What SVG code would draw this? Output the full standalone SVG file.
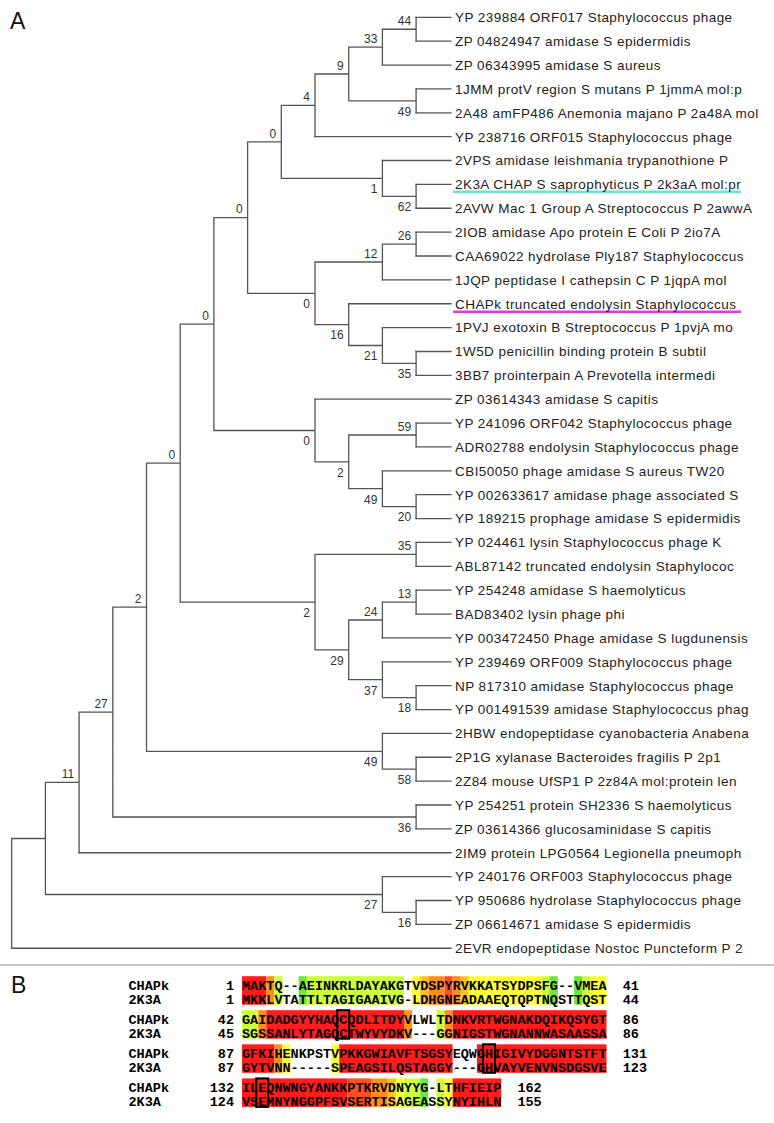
<svg xmlns="http://www.w3.org/2000/svg" width="774" height="1123" viewBox="0 0 774 1123">
<style>
.bg{fill:#ffffff}
.pl{font-family:"Liberation Sans",Arial,sans-serif;font-size:23px;fill:#111}
.lf{font-family:"Liberation Sans",Arial,sans-serif;font-size:13.5px;letter-spacing:0.45px;fill:#222}
.bs{font-family:"Liberation Sans",Arial,sans-serif;font-size:12px;fill:#333;text-anchor:end}
.br{stroke:#555;stroke-width:1.3;fill:none;stroke-linecap:square}
.sq{font-family:"Liberation Mono","Courier New",monospace;font-weight:bold;font-size:13.5px;fill:#000}
.num{text-anchor:end}
.R{fill:#ff1c1c}.OR{fill:#ff4f1c}.O{fill:#ff8f1c}.LO{fill:#ffc41c}.Y{fill:#ffff38}.YG{fill:#ccff3c}.G{fill:#6ee63a}
.bx{fill:none;stroke:#000;stroke-width:2}
</style>
<rect class="bg" x="0" y="0" width="774" height="1123"/>
<text class="pl" x="10" y="28.5">A</text>
<text class="pl" x="11" y="993.3">B</text>
<line x1="0" y1="965" x2="774" y2="965" stroke="#c8c8c8" stroke-width="2"/>

<g id="connectors">
<path class="br" d="M11.7 838.5V948.2M11.7 838.5H45.4M45.4 782.4V894.5M45.4 782.4H79.1M79.1 712.1V852.75M79.1 712.1H112.8M112.8 607.2V817M112.8 607.2H146.5M146.5 463.1V751.3M146.5 463.1H180.2M180.2 324.1V602.1M180.2 324.1H213.9M213.9 217.6V430.5M213.9 217.6H247.6M247.6 141.9V293.3M247.6 141.9H281.3M281.3 105.3V178.4M281.3 105.3H315M315 74V136.65M315 74H348.7M348.7 47.1V100.85M348.7 47.1H382.4M382.4 29.25V65.04M382.4 29.25H416.1M416.1 17.3V41.17M348.7 100.85H416.1M416.1 88.91V112.78M281.3 178.4H382.4M382.4 160.52V196.3M382.4 196.3H416.1M416.1 184.39V208.26M247.6 293.3H315M315 262V324.6M315 262H382.4M382.4 244.1V279.87M382.4 244.1H416.1M416.1 232.13V256M315 324.6H348.7M348.7 303.74V345.5M348.7 345.5H382.4M382.4 327.61V363.4M382.4 363.4H416.1M416.1 351.48V375.35M213.9 430.5H315M315 399.22V461.9M315 461.9H348.7M348.7 435V488.7M348.7 435H416.1M416.1 423.09V446.96M348.7 488.7H382.4M382.4 470.83V506.6M382.4 506.6H416.1M416.1 494.7V518.57M180.2 602.1H315M315 554.4V649.9M315 554.4H416.1M416.1 542.44V566.31M315 649.9H348.7M348.7 620V679.7M348.7 620H382.4M382.4 602.1V637.92M382.4 602.1H416.1M416.1 590.18V614.05M348.7 679.7H382.4M382.4 661.79V697.6M382.4 697.6H416.1M416.1 685.66V709.53M146.5 751.3H382.4M382.4 733.4V769.2M382.4 769.2H416.1M416.1 757.27V781.14M112.8 817H416.1M416.1 805.01V828.88M45.4 894.5H382.4M382.4 876.62V912.4M382.4 912.4H416.1M416.1 900.49V924.36"/>
<path class="br" d="M416.1 17.3H451M416.1 41.17H451M382.4 65.04H451M416.1 88.91H451M416.1 112.78H451M315 136.65H451M382.4 160.52H451M416.1 184.39H451M416.1 208.26H451M416.1 232.13H451M416.1 256H451M382.4 279.87H451M348.7 303.74H451M382.4 327.61H451M416.1 351.48H451M416.1 375.35H451M315 399.22H451M416.1 423.09H451M416.1 446.96H451M382.4 470.83H451M416.1 494.7H451M416.1 518.57H451M416.1 542.44H451M416.1 566.31H451M416.1 590.18H451M416.1 614.05H451M382.4 637.92H451M382.4 661.79H451M416.1 685.66H451M416.1 709.53H451M382.4 733.4H451M416.1 757.27H451M416.1 781.14H451M416.1 805.01H451M416.1 828.88H451M79.1 852.75H451M382.4 876.62H451M416.1 900.49H451M416.1 924.36H451M11.7 948.23H451"/>
<line x1="453" y1="191.7" x2="741" y2="191.7" stroke="#6fe0d2" stroke-width="2.6"/>
<line x1="453" y1="311.7" x2="741" y2="311.7" stroke="#e23cd8" stroke-width="2.6"/>
</g>

<g id="bootstrap">
<text class="bs" x="411.1" y="25.05">44</text>
<text class="bs" x="377.4" y="42.9">33</text>
<text class="bs" x="343.7" y="69.8">9</text>
<text class="bs" x="310" y="101.1">4</text>
<text class="bs" x="411.1" y="115.65">49</text>
<text class="bs" x="276.3" y="137.7">0</text>
<text class="bs" x="377.4" y="193.2">1</text>
<text class="bs" x="411.1" y="211.1">62</text>
<text class="bs" x="242.6" y="213.4">0</text>
<text class="bs" x="411.1" y="239.9">26</text>
<text class="bs" x="377.4" y="257.8">12</text>
<text class="bs" x="310" y="308.1">0</text>
<text class="bs" x="343.7" y="339.4">16</text>
<text class="bs" x="377.4" y="360.3">21</text>
<text class="bs" x="411.1" y="378.2">35</text>
<text class="bs" x="208.9" y="319.9">0</text>
<text class="bs" x="411.1" y="430.8">59</text>
<text class="bs" x="310" y="445.3">0</text>
<text class="bs" x="343.7" y="476.7">2</text>
<text class="bs" x="377.4" y="503.5">49</text>
<text class="bs" x="411.1" y="521.4">20</text>
<text class="bs" x="175.2" y="458.9">0</text>
<text class="bs" x="411.1" y="550.2">35</text>
<text class="bs" x="411.1" y="597.9">13</text>
<text class="bs" x="310" y="616.9">2</text>
<text class="bs" x="377.4" y="615.8">24</text>
<text class="bs" x="343.7" y="664.7">29</text>
<text class="bs" x="377.4" y="694.5">37</text>
<text class="bs" x="411.1" y="712.4">18</text>
<text class="bs" x="141.5" y="603">2</text>
<text class="bs" x="377.4" y="766.1">49</text>
<text class="bs" x="411.1" y="784">58</text>
<text class="bs" x="107.8" y="707.9">27</text>
<text class="bs" x="411.1" y="831.8">36</text>
<text class="bs" x="74.1" y="778.2">11</text>
<text class="bs" x="377.4" y="909.3">27</text>
<text class="bs" x="411.1" y="927.2">16</text>
</g>

<g id="leaf01"><text class="lf" x="455" y="22.1">YP 239884 ORF017 Staphylococcus phage</text></g>
<g id="leaf02"><text class="lf" x="455" y="46">ZP 04824947 amidase S epidermidis</text></g>
<g id="leaf03"><text class="lf" x="455" y="69.8">ZP 06343995 amidase S aureus</text></g>
<g id="leaf04"><text class="lf" x="455" y="93.7">1JMM protV region S mutans P 1jmmA mol:p</text></g>
<g id="leaf05"><text class="lf" x="455" y="117.6">2A48 amFP486 Anemonia majano P 2a48A mol</text></g>
<g id="leaf06"><text class="lf" x="455" y="141.5">YP 238716 ORF015 Staphylococcus phage</text></g>
<g id="leaf07"><text class="lf" x="455" y="165.3">2VPS amidase leishmania trypanothione P</text></g>
<g id="leaf08"><text class="lf" x="455" y="189.2">2K3A CHAP S saprophyticus P 2k3aA mol:pr</text></g>
<g id="leaf09"><text class="lf" x="455" y="213.1">2AVW Mac 1 Group A Streptococcus P 2awwA</text></g>
<g id="leaf10"><text class="lf" x="455" y="236.9">2IOB amidase Apo protein E Coli P 2io7A</text></g>
<g id="leaf11"><text class="lf" x="455" y="260.8">CAA69022 hydrolase Ply187 Staphylococcus</text></g>
<g id="leaf12"><text class="lf" x="455" y="284.7">1JQP peptidase I cathepsin C P 1jqpA mol</text></g>
<g id="leaf13"><text class="lf" x="455" y="308.5">CHAPk truncated endolysin Staphylococcus</text></g>
<g id="leaf14"><text class="lf" x="455" y="332.4">1PVJ exotoxin B Streptococcus P 1pvjA mo</text></g>
<g id="leaf15"><text class="lf" x="455" y="356.3">1W5D penicillin binding protein B subtil</text></g>
<g id="leaf16"><text class="lf" x="455" y="380.2">3BB7 prointerpain A Prevotella intermedi</text></g>
<g id="leaf17"><text class="lf" x="455" y="404">ZP 03614343 amidase S capitis</text></g>
<g id="leaf18"><text class="lf" x="455" y="427.9">YP 241096 ORF042 Staphylococcus phage</text></g>
<g id="leaf19"><text class="lf" x="455" y="451.8">ADR02788 endolysin Staphylococcus phage</text></g>
<g id="leaf20"><text class="lf" x="455" y="475.6">CBI50050 phage amidase S aureus TW20</text></g>
<g id="leaf21"><text class="lf" x="455" y="499.5">YP 002633617 amidase phage associated S</text></g>
<g id="leaf22"><text class="lf" x="455" y="523.4">YP 189215 prophage amidase S epidermidis</text></g>
<g id="leaf23"><text class="lf" x="455" y="547.2">YP 024461 lysin Staphylococcus phage K</text></g>
<g id="leaf24"><text class="lf" x="455" y="571.1">ABL87142 truncated endolysin Staphylococ</text></g>
<g id="leaf25"><text class="lf" x="455" y="595">YP 254248 amidase S haemolyticus</text></g>
<g id="leaf26"><text class="lf" x="455" y="618.9">BAD83402 lysin phage phi</text></g>
<g id="leaf27"><text class="lf" x="455" y="642.7">YP 003472450 Phage amidase S lugdunensis</text></g>
<g id="leaf28"><text class="lf" x="455" y="666.6">YP 239469 ORF009 Staphylococcus phage</text></g>
<g id="leaf29"><text class="lf" x="455" y="690.5">NP 817310 amidase Staphylococcus phage</text></g>
<g id="leaf30"><text class="lf" x="455" y="714.3">YP 001491539 amidase Staphylococcus phag</text></g>
<g id="leaf31"><text class="lf" x="455" y="738.2">2HBW endopeptidase cyanobacteria Anabena</text></g>
<g id="leaf32"><text class="lf" x="455" y="762.1">2P1G xylanase Bacteroides fragilis P 2p1</text></g>
<g id="leaf33"><text class="lf" x="455" y="785.9">2Z84 mouse UfSP1 P 2z84A mol:protein len</text></g>
<g id="leaf34"><text class="lf" x="455" y="809.8">YP 254251 protein SH2336 S haemolyticus</text></g>
<g id="leaf35"><text class="lf" x="455" y="833.7">ZP 03614366 glucosaminidase S capitis</text></g>
<g id="leaf36"><text class="lf" x="455" y="857.6">2IM9 protein LPG0564 Legionella pneumoph</text></g>
<g id="leaf37"><text class="lf" x="455" y="881.4">YP 240176 ORF003 Staphylococcus phage</text></g>
<g id="leaf38"><text class="lf" x="455" y="905.3">YP 950686 hydrolase Staphylococcus phage</text></g>
<g id="leaf39"><text class="lf" x="455" y="929.2">ZP 06614671 amidase S epidermidis</text></g>
<g id="leaf40"><text class="lf" x="455" y="953">2EVR endopeptidase Nostoc Puncteform P 2</text></g>

<g id="alignment-colors">
<g transform="translate(0,976.2)">
<rect class="R" x="242" y="0" width="24.3" height="28.5"/>
<rect class="O" x="266.3" y="0" width="8.1" height="28.5"/>
<rect class="YG" x="274.4" y="0" width="8.1" height="28.5"/>
<rect class="G" x="298.7" y="0" width="8.1" height="28.5"/>
<rect class="YG" x="306.8" y="0" width="97.2" height="28.5"/>
<rect class="Y" x="412.1" y="0" width="8.1" height="28.5"/>
<rect class="LO" x="420.2" y="0" width="8.1" height="28.5"/>
<rect class="O" x="428.3" y="0" width="16.2" height="28.5"/>
<rect class="OR" x="444.5" y="0" width="8.1" height="28.5"/>
<rect class="O" x="452.6" y="0" width="8.1" height="28.5"/>
<rect class="LO" x="460.7" y="0" width="8.1" height="28.5"/>
<rect class="Y" x="468.8" y="0" width="72.9" height="28.5"/>
<rect class="YG" x="541.7" y="0" width="8.1" height="28.5"/>
<rect class="G" x="549.8" y="0" width="8.1" height="28.5"/>
<rect class="G" x="574.1" y="0" width="8.1" height="28.5"/>
<rect class="YG" x="582.2" y="0" width="8.1" height="28.5"/>
<rect class="Y" x="590.3" y="0" width="16.2" height="28.5"/>
</g>
<g transform="translate(0,1010.2)">
<rect class="YG" x="242" y="0" width="16.2" height="28.5"/>
<rect class="O" x="258.2" y="0" width="8.1" height="28.5"/>
<rect class="R" x="266.3" y="0" width="137.7" height="28.5"/>
<rect class="O" x="404" y="0" width="8.1" height="28.5"/>
<rect class="YG" x="436.4" y="0" width="8.1" height="28.5"/>
<rect class="O" x="444.5" y="0" width="8.1" height="28.5"/>
<rect class="R" x="452.6" y="0" width="153.9" height="28.5"/>
</g>
<g transform="translate(0,1044.3)">
<rect class="R" x="242" y="0" width="32.4" height="28.5"/>
<rect class="O" x="274.4" y="0" width="8.1" height="28.5"/>
<rect class="Y" x="282.5" y="0" width="8.1" height="28.5"/>
<rect class="Y" x="331.1" y="0" width="8.1" height="28.5"/>
<rect class="R" x="339.2" y="0" width="113.4" height="28.5"/>
<rect class="R" x="476.9" y="0" width="129.6" height="28.5"/>
</g>
<g transform="translate(0,1078.4)">
<rect class="R" x="242" y="0" width="105.3" height="28.5"/>
<rect class="OR" x="347.3" y="0" width="24.3" height="28.5"/>
<rect class="O" x="371.6" y="0" width="16.2" height="28.5"/>
<rect class="LO" x="387.8" y="0" width="8.1" height="28.5"/>
<rect class="Y" x="395.9" y="0" width="8.1" height="28.5"/>
<rect class="YG" x="404" y="0" width="16.2" height="28.5"/>
<rect class="G" x="420.2" y="0" width="8.1" height="28.5"/>
<rect class="YG" x="436.4" y="0" width="8.1" height="28.5"/>
<rect class="Y" x="444.5" y="0" width="8.1" height="28.5"/>
<rect class="R" x="452.6" y="0" width="48.6" height="28.5"/>
</g>
</g>

<g id="alignment-block1">
<text class="sq" x="128.5" y="989.5">CHAPk</text>
<text class="sq" x="128.5" y="1003.5">2K3A</text>
<text class="sq num" x="234" y="989.5">1</text>
<text class="sq num" x="234" y="1003.5">1</text>
<text class="sq" x="242" y="989.5">MAKTQ--AEINKRLDAYAKGTVDSPYRVKKATSYDPSFG--VMEA</text>
<text class="sq" x="242" y="1003.5">MKKLVTATTLTAGIGAAIVG-LDHGNEADAAEQTQPTNQSTTQST</text>
<text class="sq" x="622.7" y="989.5">41</text>
<text class="sq" x="622.7" y="1003.5">44</text>
</g>
<g id="alignment-block2">
<text class="sq" x="128.5" y="1023.5">CHAPk</text>
<text class="sq" x="128.5" y="1037.5">2K3A</text>
<text class="sq num" x="234" y="1023.5">42</text>
<text class="sq num" x="234" y="1037.5">45</text>
<text class="sq" x="242" y="1023.5">GAIDADGYYHAQCQDLITDYVLWLTDNKVRTWGNAKDQIKQSYGT</text>
<text class="sq" x="242" y="1037.5">SGSSANLYTAGQCTWYVYDKV---GGNIGSTWGNANNWASAASSA</text>
<text class="sq" x="622.7" y="1023.5">86</text>
<text class="sq" x="622.7" y="1037.5">86</text>
<rect class="bx" x="337.2" y="1010.2" width="12" height="28.5"/>
</g>
<g id="alignment-block3">
<text class="sq" x="128.5" y="1057.6">CHAPk</text>
<text class="sq" x="128.5" y="1071.6">2K3A</text>
<text class="sq num" x="234" y="1057.6">87</text>
<text class="sq num" x="234" y="1071.6">87</text>
<text class="sq" x="242" y="1057.6">GFKIHENKPSTVPKKGWIAVFTSGSYEQWGHIGIVYDGGNTSTFT</text>
<text class="sq" x="242" y="1071.6">GYTVNN-----SPEAGSILQSTAGGY---GHVAYVENVNSDGSVE</text>
<text class="sq" x="622.7" y="1057.6">131</text>
<text class="sq" x="622.7" y="1071.6">123</text>
<rect class="bx" x="483" y="1044.3" width="12" height="28.5"/>
</g>
<g id="alignment-block4">
<text class="sq" x="128.5" y="1091.7">CHAPk</text>
<text class="sq" x="128.5" y="1105.7">2K3A</text>
<text class="sq num" x="234" y="1091.7">132</text>
<text class="sq num" x="234" y="1105.7">124</text>
<text class="sq" x="242" y="1091.7">ILEQNWNGYANKKPTKRVDNYYG-LTHFIEIP</text>
<text class="sq" x="242" y="1105.7">VSEMNYNGGPFSVSERTISAGEASSYNYIHLN</text>
<text class="sq" x="517.4" y="1091.7">162</text>
<text class="sq" x="517.4" y="1105.7">155</text>
<rect class="bx" x="256.2" y="1078.4" width="12" height="28.5"/>
</g>
</svg>
